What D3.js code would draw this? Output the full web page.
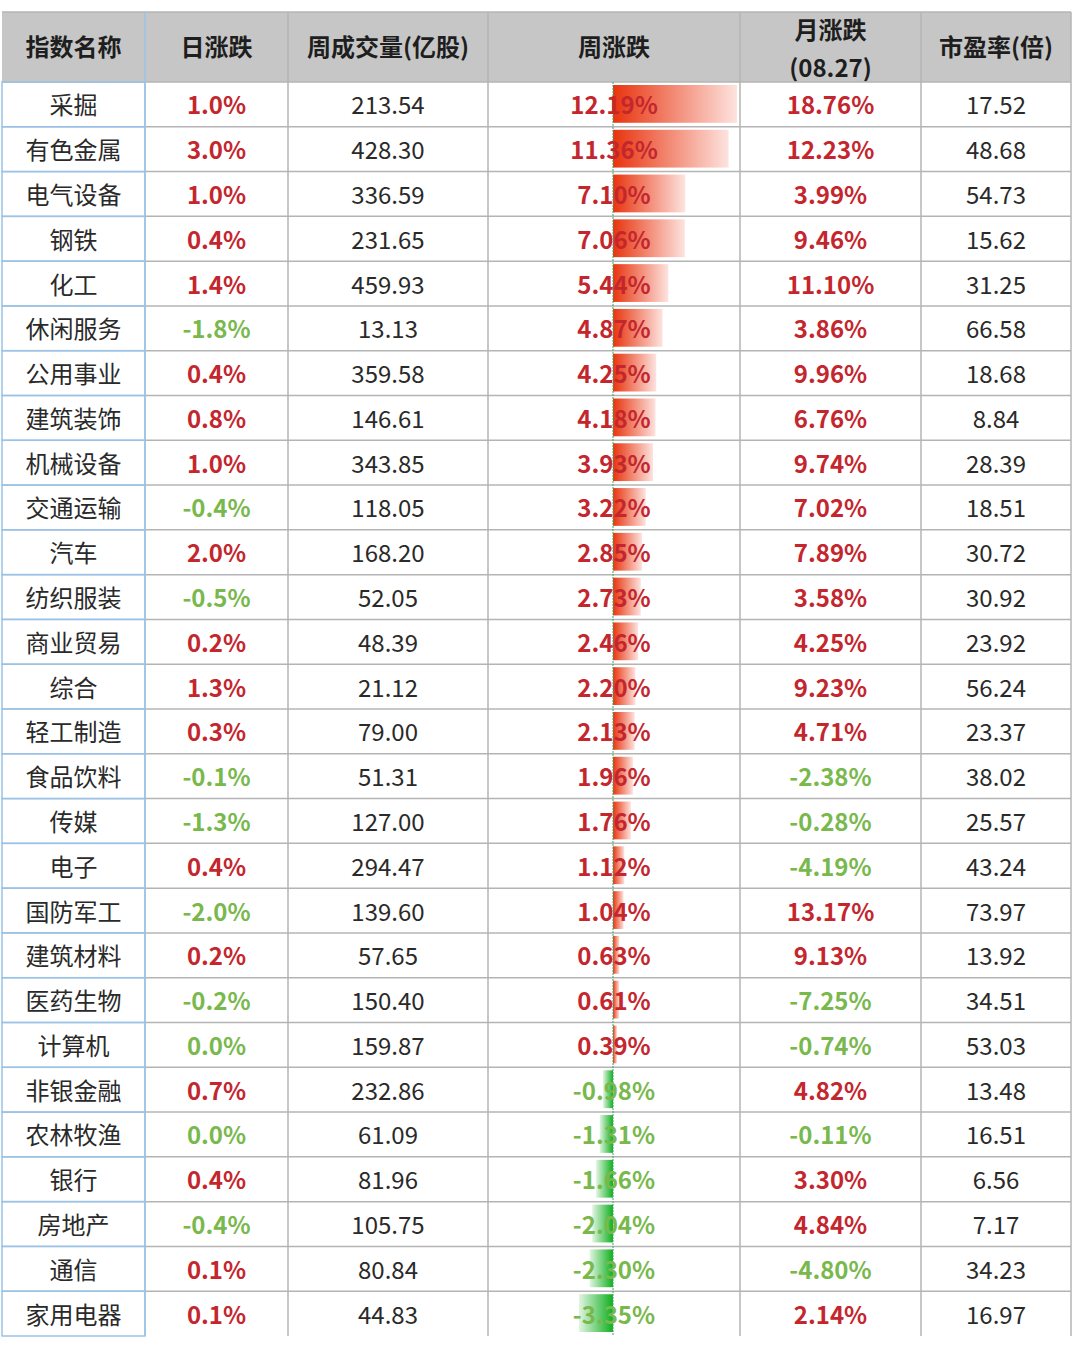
<!DOCTYPE html>
<html>
<head>
<meta charset="utf-8">
<script src="https://cdn.jsdelivr.net/npm/d3@7"></script>
<style>
  body { margin: 0; background: #fff; }
  svg text { font-family: "Noto Sans CJK SC", "Noto Sans", sans-serif; }
</style>
</head>
<body>
<div id="chart"></div>
<script>
var headers = ['指数名称', '日涨跌', '周成交量(亿股)', '周涨跌', '月涨跌\n(08.27)', '市盈率(倍)'];
var names = ['采掘', '有色金属', '电气设备', '钢铁', '化工', '休闲服务', '公用事业', '建筑装饰', '机械设备', '交通运输',
  '汽车', '纺织服装', '商业贸易', '综合', '轻工制造', '食品饮料', '传媒', '电子', '国防军工', '建筑材料',
  '医药生物', '计算机', '非银金融', '农林牧渔', '银行', '房地产', '通信', '家用电器'];
var dayChg = [1.0, 3.0, 1.0, 0.4, 1.4, -1.8, 0.4, 0.8, 1.0, -0.4,
  2.0, -0.5, 0.2, 1.3, 0.3, -0.1, -1.3, 0.4, -2.0, 0.2,
  -0.2, 0.0, 0.7, 0.0, 0.4, -0.4, 0.1, 0.1];
// 0.0% rows shown in green in the source (tiny negatives rounded)
var dayDown = [false, false, false, false, false, true, false, false, false, true,
  false, true, false, false, false, true, true, false, true, false,
  true, true, false, true, false, true, false, false];
var weekVol = [213.54, 428.30, 336.59, 231.65, 459.93, 13.13, 359.58, 146.61, 343.85, 118.05,
  168.20, 52.05, 48.39, 21.12, 79.00, 51.31, 127.00, 294.47, 139.60, 57.65,
  150.40, 159.87, 232.86, 61.09, 81.96, 105.75, 80.84, 44.83];
var weekChg = [12.19, 11.36, 7.10, 7.06, 5.44, 4.87, 4.25, 4.18, 3.93, 3.22,
  2.85, 2.73, 2.46, 2.20, 2.13, 1.96, 1.76, 1.12, 1.04, 0.63,
  0.61, 0.39, -0.98, -1.31, -1.66, -2.04, -2.30, -3.35];
var monthChg = [18.76, 12.23, 3.99, 9.46, 11.10, 3.86, 9.96, 6.76, 9.74, 7.02,
  7.89, 3.58, 4.25, 9.23, 4.71, -2.38, -0.28, -4.19, 13.17, 9.13,
  -7.25, -0.74, 4.82, -0.11, 3.30, 4.84, -4.80, 2.14];
var pe = [17.52, 48.68, 54.73, 15.62, 31.25, 66.58, 18.68, 8.84, 28.39, 18.51,
  30.72, 30.92, 23.92, 56.24, 23.37, 38.02, 25.57, 43.24, 73.97, 13.92,
  34.51, 53.03, 13.48, 16.51, 6.56, 7.17, 34.23, 16.97];

var W = 1080, H = 1353;
var colEdges = [2, 145, 288, 488, 740, 921, 1071];
var headTop = 12, headBot = 82, tableBot = 1336;
var RED = '#c4262e', GREEN = '#78b84c', GRID = '#b4b4b4', BLUE = '#9cc2e5';

var svg = d3.select('#chart').append('svg')
  .attr('width', W).attr('height', H);

var defs = svg.append('defs');
var gr = defs.append('linearGradient').attr('id', 'gRed').attr('x1', 0).attr('x2', 1);
gr.append('stop').attr('offset', '0%').attr('stop-color', '#e8340e');
gr.append('stop').attr('offset', '100%').attr('stop-color', '#fde3df');
var gg = defs.append('linearGradient').attr('id', 'gGreen').attr('x1', 0).attr('x2', 1);
gg.append('stop').attr('offset', '0%').attr('stop-color', '#e2f5e2');
gg.append('stop').attr('offset', '100%').attr('stop-color', '#10b020');

var y = d3.scaleBand().domain(d3.range(names.length)).range([headBot, tableBot]);
var mid = function(i) { return y(i) + y.bandwidth() / 2; };
var cx = function(c) { return (colEdges[c] + colEdges[c + 1]) / 2; };

// header
svg.append('rect').attr('x', colEdges[0]).attr('y', headTop)
  .attr('width', colEdges[6] - colEdges[0]).attr('height', headBot - headTop)
  .attr('fill', '#c6c6c6');
headers.forEach(function(h, c) {
  var lines = h.split('\n');
  var t = svg.append('text').attr('x', cx(c)).attr('text-anchor', 'middle')
    .attr('font-size', 24).attr('font-weight', 'bold').attr('fill', '#1e1e1e');
  lines.forEach(function(l, k) {
    t.append('tspan').attr('x', cx(c))
      .attr('y', lines.length === 1 ? 56 : 39 + k * 38)
      .text(l);
  });
});

// bars in 周涨跌 column
var zeroX = 613;
var x = d3.scaleLinear().domain([0, 12.19]).range([zeroX, 737]);
svg.append('g').selectAll('rect').data(weekChg).join('rect')
  .attr('x', function(d) { return Math.min(x(d), zeroX); })
  .attr('y', function(d, i) { return y(i) + 3; })
  .attr('width', function(d) { return Math.abs(x(d) - zeroX); })
  .attr('height', y.bandwidth() - 7)
  .attr('fill', function(d) { return d >= 0 ? 'url(#gRed)' : 'url(#gGreen)'; });

// grid lines (no closing line under the last row, except the first column box)
var grid = svg.append('g');
y.domain().slice(0, -1).forEach(function(i) {
  grid.append('line').attr('x1', colEdges[1]).attr('x2', colEdges[6])
    .attr('y1', y(i) + y.bandwidth()).attr('y2', y(i) + y.bandwidth())
    .attr('stroke', GRID).attr('stroke-width', 1.5);
});
colEdges.slice(1).forEach(function(e, k) {
  grid.append('line').attr('x1', e).attr('x2', e)
    .attr('y1', headTop).attr('y2', tableBot)
    .attr('stroke', k === 0 ? BLUE : GRID).attr('stroke-width', 1.5);
});
grid.append('line').attr('x1', colEdges[0]).attr('x2', colEdges[6])
  .attr('y1', headTop).attr('y2', headTop).attr('stroke', GRID).attr('stroke-width', 1.5);
grid.append('line').attr('x1', colEdges[0]).attr('x2', colEdges[6])
  .attr('y1', headBot).attr('y2', headBot).attr('stroke', GRID).attr('stroke-width', 1.5);
y.domain().forEach(function(i) {
  grid.append('rect').attr('x', colEdges[0]).attr('y', y(i))
    .attr('width', colEdges[1] - colEdges[0]).attr('height', y.bandwidth())
    .attr('fill', 'none').attr('stroke', BLUE).attr('stroke-width', 1.5);
});
// zero line
grid.append('line').attr('x1', zeroX).attr('x2', zeroX)
  .attr('y1', headBot).attr('y2', tableBot)
  .attr('stroke', '#3aa860').attr('stroke-width', 1).attr('stroke-dasharray', '2,1');

// cell text
function col(c, vals, fmt, colorFn, bold) {
  svg.append('g').selectAll('text').data(vals).join('text')
    .attr('x', cx(c)).attr('y', function(d, i) { return mid(i) + 10; })
    .attr('text-anchor', 'middle').attr('font-size', 24)
    .attr('font-weight', bold ? 'bold' : 'normal')
    .attr('fill', colorFn)
    .text(fmt);
}
var sign = function(d) { return d < 0 ? GREEN : RED; };
col(0, names, function(d) { return d; }, '#2a2a2a', false);
col(1, dayChg, function(d) { return d.toFixed(1) + '%'; },
  function(d, i) { return dayDown[i] ? GREEN : RED; }, true);
col(2, weekVol, function(d) { return d.toFixed(2); }, '#2a2a2a', false);
col(3, weekChg, function(d) { return d.toFixed(2) + '%'; }, sign, true);
col(4, monthChg, function(d) { return d.toFixed(2) + '%'; }, sign, true);
col(5, pe, function(d) { return d.toFixed(2); }, '#2a2a2a', false);
</script>
</body>
</html>
